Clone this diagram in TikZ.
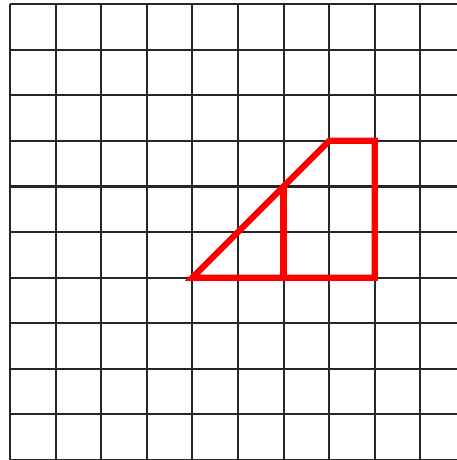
\documentclass[tikz,border=0pt]{standalone}
\usepackage{tikz}

\tikzset{
  gridline/.style={black!85, line width=1.3pt},
  shapeline/.style={red, line width=3.9pt, line join=miter}
}

\begin{document}
\begin{tikzpicture}
  \useasboundingbox (-0.22,0) rectangle (9.8,10.09);
  \clip (-0.22,0) rectangle (9.8,10.09);
  % squared paper
  \foreach \i in {0,...,10} {
    \draw[gridline] (\i,-0.5) -- (\i,10);
    \draw[gridline] (0,\i) -- (10.5,\i);
  }
  % red figure
  \coordinate (A) at (4,4);
  \coordinate (B) at (7,7);
  \coordinate (C) at (8,7);
  \coordinate (D) at (8,4);
  \coordinate (E) at (6,6);
  \coordinate (F) at (6,4);
  \draw[shapeline] (A) -- (B) -- (C) -- (D) -- cycle;
  \draw[shapeline] (E) -- (F);
\end{tikzpicture}
\end{document}
